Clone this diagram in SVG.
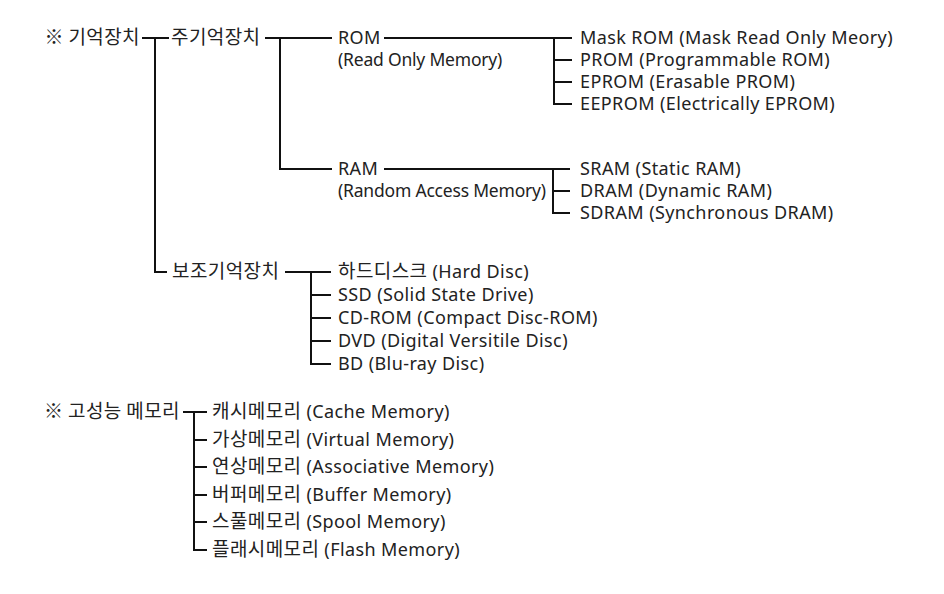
<svg xmlns="http://www.w3.org/2000/svg" width="944" height="594" viewBox="0 0 944 594">
<style>
text{font-family:"Noto Sans","Noto Sans CJK KR",sans-serif;font-size:18px;fill:#222;letter-spacing:0.4px}
.k{font-family:"Noto Sans CJK KR",sans-serif;font-size:19px}
.s{font-size:17.5px;letter-spacing:-0.2px}
.e{text-anchor:end}
.c path{fill:none;stroke:#111;stroke-width:2}
</style>
<rect width="944" height="594" fill="#fff"/>
<g class="c" id="connectors">
<path d="M142 38H169M155 38V272H167"/>
<path d="M265 38H332M280 38V169H332"/>
<path d="M384 38H572M554 38V104H572M554 60H572M554 82H572"/>
<path d="M384 169H570M553 169V213H570M553 191H570"/>
<path d="M285 272H331M311 272V364H331M311 295H331M311 318H331M311 341H331"/>
<path d="M183 412H207M194 412V550H207M194 440H207M194 467H207M194 495H207M194 522H207"/>
</g>
<g id="root"><text class="e k" x="140" y="44">※ 기억장치</text></g>
<g id="main"><text class="k" x="171" y="44">주기억장치</text></g>
<g id="rom"><text x="338" y="44">ROM</text><text class="s" x="338" y="66">(Read Only Memory)</text></g>
<g id="maskrom"><text x="580" y="44">Mask ROM (Mask Read Only Meory)</text></g>
<g id="prom"><text x="580" y="66">PROM (Programmable ROM)</text></g>
<g id="eprom"><text x="580" y="88">EPROM (Erasable PROM)</text></g>
<g id="eeprom"><text x="580" y="110">EEPROM (Electrically EPROM)</text></g>
<g id="ram"><text x="338" y="175">RAM</text><text class="s" x="338" y="197">(Random Access Memory)</text></g>
<g id="sram"><text x="580" y="175">SRAM (Static RAM)</text></g>
<g id="dram"><text x="580" y="197">DRAM (Dynamic RAM)</text></g>
<g id="sdram"><text x="580" y="219">SDRAM (Synchronous DRAM)</text></g>
<g id="aux"><text class="k" x="172" y="278">보조기억장치</text></g>
<g id="hdd"><text x="338" y="278"><tspan class="k">하드디스크</tspan> (Hard Disc)</text></g>
<g id="ssd"><text x="338" y="301">SSD (Solid State Drive)</text></g>
<g id="cdrom"><text x="338" y="324">CD-ROM (Compact Disc-ROM)</text></g>
<g id="dvd"><text x="338" y="347">DVD (Digital Versitile Disc)</text></g>
<g id="bd"><text x="338" y="370">BD (Blu-ray Disc)</text></g>
<g id="hpm"><text class="e k" x="180" y="418">※ 고성능 메모리</text></g>
<g id="cache"><text x="212" y="418"><tspan class="k">캐시메모리</tspan> (Cache Memory)</text></g>
<g id="virtual"><text x="212" y="446"><tspan class="k">가상메모리</tspan> (Virtual Memory)</text></g>
<g id="assoc"><text x="212" y="473"><tspan class="k">연상메모리</tspan> (Associative Memory)</text></g>
<g id="buffer"><text x="212" y="501"><tspan class="k">버퍼메모리</tspan> (Buffer Memory)</text></g>
<g id="spool"><text x="212" y="528"><tspan class="k">스풀메모리</tspan> (Spool Memory)</text></g>
<g id="flash"><text x="212" y="556"><tspan class="k">플래시메모리</tspan> (Flash Memory)</text></g>
</svg>
